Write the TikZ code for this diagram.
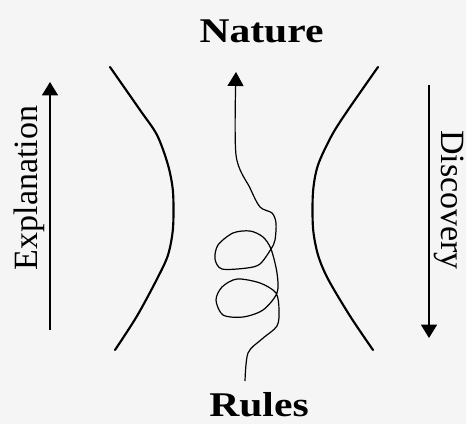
\documentclass[tikz,border=0pt]{standalone}
\usepackage{fontspec}
\setmainfont{Liberation Serif}
\usepackage{tikz}
\usetikzlibrary{arrows.meta}

\tikzset{
    label/.style={font=\fontsize{25.5}{30}\selectfont, inner sep=0pt},
    title/.style={font=\bfseries\fontsize{26}{30}\selectfont, xscale=1.2, inner sep=0pt},
    flow/.style={line width=1pt, -{Triangle[width=12pt, length=10pt]}},
    wall/.style={line width=1.6pt, line cap=round},
    path/.style={line width=0.9pt}
}

\begin{document}
\begin{tikzpicture}[x=0.75pt, y=-0.75pt]
    % FONS
    \fill[gray!8] (0,0) rectangle (466,424);
    \useasboundingbox (0,0) rectangle (466,424);

    % TITOLS
    \node[title, anchor=base] (nature) at (261.5,43) {Nature};
    \node[title, anchor=base] (rules) at (259,416) {Rules};

    % FLETXES LATERALS
    \coordinate (expl-a) at (50,330);
    \coordinate (expl-b) at (50,82);
    \coordinate (disc-a) at (429,85);
    \coordinate (disc-b) at (429,338);
    \draw[flow] (expl-a) -- (expl-b);
    \draw[flow] (disc-a) -- (disc-b);
    \node[label, rotate=90, anchor=base] (explanation) at (37,188) {Explanation};
    \node[label, rotate=-90, anchor=base] (discovery) at (441,200) {Discovery};

    % CORBES (coll d'ampolla)
    \draw[wall] plot[smooth] coordinates {(110,67) (140,110) (157,135) (168,165) (173,192)
        (173,228) (168,255) (157,279) (137,316) (115,350)};
    \draw[wall] plot[smooth] coordinates {(378,67) (348,110) (332,135) (318,165) (313,192)
        (313,228) (318,255) (328,279) (350,316) (373,350)};

    % CAMI AMB BUCLES
    \coordinate (start) at (245,381);
    \coordinate (tip) at (236,72);
    \draw[path, -{Triangle[width=12pt, length=10.5pt]}] plot[smooth] coordinates {(start)
        (248,353) (262,339) (277,326) (279,310) (276,293) (260,283) (237,279) (222,287)
        (216,300) (223,315) (243,317) (263,310) (277,293) (277,273) (271,249) (263,237)
        (250,231) (233,233) (218,245) (215,259) (222,269) (247,268) (260,264) (271,249)
        (275,240) (276,223) (272,213) (260,207) (250,188) (236,155) (tip)};
\end{tikzpicture}
\end{document}
